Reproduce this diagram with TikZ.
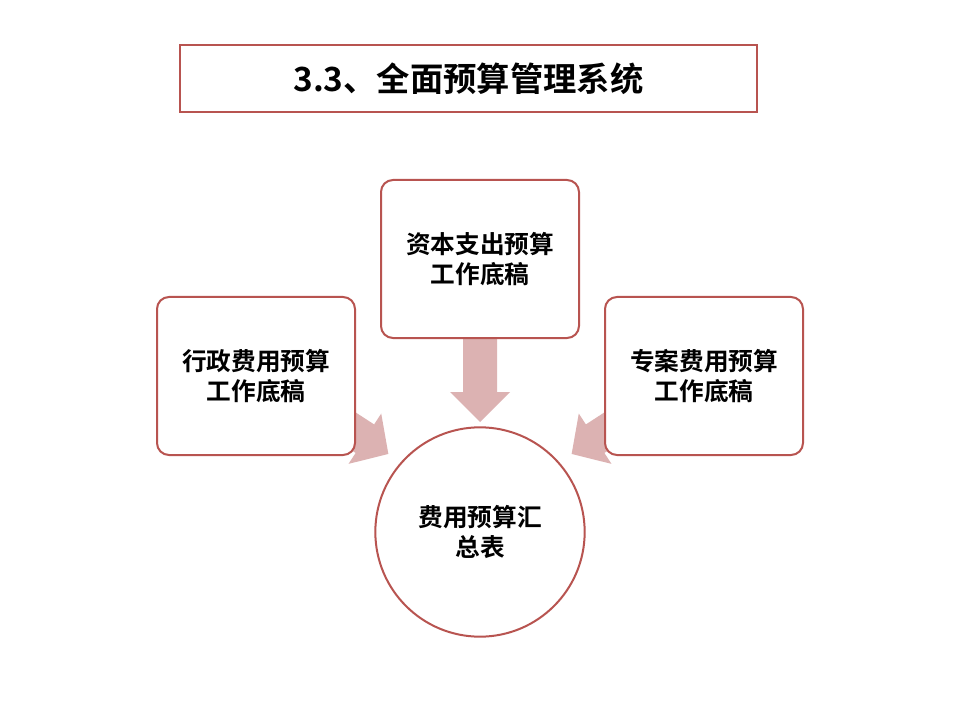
\documentclass[tikz,border=0pt]{standalone}
\usepackage{fontspec}
\newfontfamily\cjk{Noto Sans CJK SC Bold}
\definecolor{bord}{HTML}{B85450}
\definecolor{arr}{HTML}{DCB2B2}
\tikzset{
 box/.style={draw=bord,line width=1.5pt,rounded corners=9pt,fill=white,minimum width=148.5pt,minimum height=118.5pt,font=\cjk\fontsize{18.5}{22}\selectfont,align=center,inner sep=0pt},
 blk/.style={fill=arr,draw=none}
}
\newcommand\blockarrow[5]{% origin x,y, rotation, shaft length, total length
 \fill[blk,shift={(#1,#2)},rotate=#3] (0,-17) -- (#4,-17) -- (#4,-30) -- (#5,0) -- (#4,30) -- (#4,17) -- (0,17) -- cycle;}
\begin{document}
\begin{tikzpicture}[x=0.75pt,y=-0.75pt]
\useasboundingbox[fill=white] (0,0) rectangle (960,720);
\node[draw=bord,line width=1.5pt,minimum width=432.75pt,minimum height=50.25pt,inner sep=0pt,font=\cjk\fontsize{25}{28}\selectfont] (title) at (468.5,78.5) {3.3、全面预算管理系统};
\blockarrow{480}{330}{-90}{62}{92}
\blockarrow{333}{418}{-33}{38}{66}
\blockarrow{627}{418}{-147}{38}{66}
\node[box] (top) at (480,259) {资本支出预算\\工作底稿};
\node[box] (left) at (256,376) {行政费用预算\\工作底稿};
\node[box] (right) at (704,376) {专案费用预算\\工作底稿};
\node[draw=bord,line width=1.5pt,circle,minimum size=157pt,fill=white,font=\cjk\fontsize{18.5}{22}\selectfont,align=center] (sum) at (480,532) {费用预算汇\\总表};
\end{tikzpicture}
\end{document}
